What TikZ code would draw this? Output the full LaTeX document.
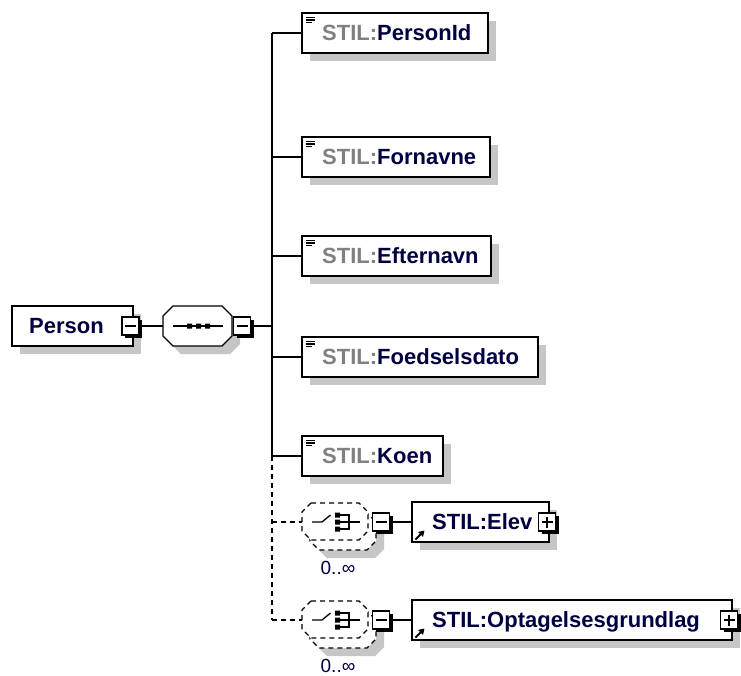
\documentclass[tikz,border=0pt]{standalone}
\usepackage{fontspec}
\setmainfont{Liberation Sans}
\usetikzlibrary{arrows.meta}
\definecolor{navy}{RGB}{0,0,64}
\definecolor{stilgray}{RGB}{128,128,128}
\definecolor{shgray}{RGB}{198,198,198}
\newcommand\lblfont{\fontsize{22}{26}\selectfont\bfseries}
\newcommand\occfont{\fontsize{19}{22}\selectfont}

% small square with black drop shadow: name, x, y, plus(1)/minus(0)
\newcommand\sqmark[4]{%
  \fill[black] (#2-8.5+3,#3-9+3) rectangle ++(17,18);
  \node[sqbox] (#1) at (#2,#3) {};
  \draw[line width=1.3pt] (#2-5.5,#3) -- (#2+5.5,#3);
  \ifnum#4=1 \draw[line width=1.3pt] (#2,#3-5.5) -- (#2,#3+5.5);\fi
}
% simple-type child element: name, top, width, label
\newcommand\childel[4]{%
  \fill[shgray] (310,#2+8) rectangle ++(#3,40);
  \node[elbox, minimum width=#3pt] (#1) at (302,#2) {};
  \draw[line width=1.4pt] (305.5,#2+4.3) -- ++(9,0) (305.5,#2+7) -- ++(9,0) (305.5,#2+9.7) -- ++(6,0);
  \node[txt] (#1t) at (322,#2+27.5) {\textcolor{stilgray}{STIL:}\textcolor{navy}{#4}};
}
% octagon path: left, top, right, bottom, chamfer
\newcommand\octpath[5]{(#1+#5,#2) -- (#3-#5,#2) -- (#3,#2+#5) -- (#3,#4-#5) -- (#3-#5,#4) -- (#1+#5,#4) -- (#1,#4-#5) -- (#1,#2+#5) -- cycle}
% choice compositor with 0..inf: name, center y
\newcommand\choicegrp[2]{%
  \fill[shgray] \octpath{318}{#2-19+18}{384}{#2+18+18}{9};
  \draw[dconn, fill=white] \octpath{310}{#2-19+10}{376}{#2+18+10}{9};
  \draw[dconn, fill=white] \octpath{302}{#2-19}{368}{#2+18}{9};
  \node[inner sep=0pt, minimum width=66pt, minimum height=37pt] (#1) at (335,#2) {};
  \draw[line width=1.3pt] (312,#2) -- (322,#2) -- (330.5,#2-7);
  \fill (335,#2-9.5) rectangle ++(5,5) (335,#2-2.5) rectangle ++(5,5) (335,#2+4.5) rectangle ++(5,5);
  \draw[line width=1.3pt] (340,#2-7) -- (349,#2-7) -- (349,#2+7) -- (340,#2+7) (340,#2) -- (360,#2);
  \sqmark{#1m}{381}{#2}{0}
  \node[anchor=base, inner sep=0pt, text=navy, font=\occfont] (#1o) at (338,#2+52) {0..∞};
}

\begin{document}
\begin{tikzpicture}[x=1pt,y=-1pt,
  elbox/.style={draw=black, line width=1.6pt, fill=white, minimum height=40pt, inner sep=0pt, outer sep=0pt, anchor=north west},
  sqbox/.style={draw=black, line width=1.3pt, fill=white, minimum width=17pt, minimum height=18pt, inner sep=0pt, outer sep=0pt},
  txt/.style={anchor=base west, inner sep=0pt, font=\lblfont},
  conn/.style={line width=1.3pt, draw=black},
  dconn/.style={line width=1.3pt, draw=black, dash pattern=on 5pt off 4pt},
  refarrow/.style={line width=1.8pt, -{Triangle[length=5.5pt,width=6.5pt]}},
]
\useasboundingbox (0,0) rectangle (741,675);

% Person
\fill[shgray] (20,314) rectangle ++(121,40);
\node[elbox, minimum width=121pt] (person) at (12,306) {};
\node[txt, text=navy] (persont) at (29,333.5) {Person};
\sqmark{pmin}{130.5}{326}{0}

% sequence
\fill[shgray] \octpath{171}{314}{240}{354}{10};
\draw[line width=1.3pt, fill=white] \octpath{163}{306}{232}{346}{10};
\node[inner sep=0pt, minimum width=69pt, minimum height=40pt] (seq) at (197.5,326) {};
\draw[line width=1.3pt] (173,326) -- (223,326);
\fill (187,323.5) rectangle ++(5,5) (196,323.5) rectangle ++(5,5) (205,323.5) rectangle ++(5,5);
\sqmark{smin}{242}{326}{0}
\draw[conn] (pmin.east) -- (seq.west);

% trunk
\coordinate (trunk) at (272,326);

% children
\childel{pid}{13}{186}{PersonId}
\childel{forn}{137}{188}{Fornavne}
\childel{eftn}{236}{189}{Efternavn}
\childel{foed}{337}{236}{Foedselsdato}
\childel{koen}{436}{141}{Koen}

\choicegrp{chE}{522}
\choicegrp{chO}{620}

% referenced elements
\fill[shgray] (420,510) rectangle ++(137,40);
\node[elbox, minimum width=137pt] (elev) at (412,502) {};
\node[txt, text=navy] (elevt) at (432,529.5) {STIL:Elev};
\draw[refarrow] (415.5,539.5) -- (424.5,530.5);
\sqmark{elevp}{547}{522}{1}

\fill[shgray] (420,608) rectangle ++(320,40);
\node[elbox, minimum width=320pt] (optag) at (412,600) {};
\node[txt, text=navy] (optagt) at (432,627.5) {STIL:Optagelsesgrundlag};
\draw[refarrow] (415.5,637.5) -- (424.5,628.5);
\sqmark{optagp}{729}{620}{1}

% connectors
\draw[conn] (smin.east) -- (smin.east -| trunk);
\draw[conn] (pid.west -| trunk) -- (koen.west -| trunk);
\draw[dconn] (koen.west -| trunk) -- (chO.west -| trunk);
\foreach \n in {pid,forn,eftn,foed,koen} \draw[conn] (\n.west -| trunk) -- (\n.west);
\draw[dconn] (chE.west -| trunk) -- (chE.west);
\draw[dconn] (chO.west -| trunk) -- (chO.west);
\draw[conn] (chEm.east) -- (elev.west);
\draw[conn] (chOm.east) -- (optag.west);
\end{tikzpicture}
\end{document}
